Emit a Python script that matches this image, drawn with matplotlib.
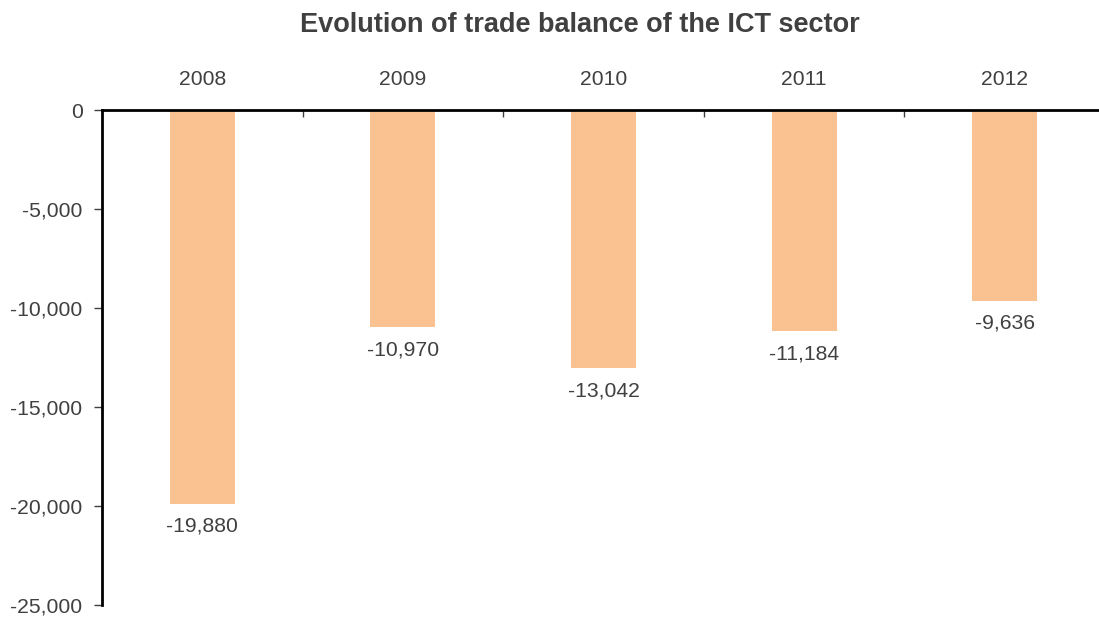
import matplotlib
matplotlib.use('Agg')
import matplotlib.pyplot as plt
from matplotlib.ticker import FuncFormatter, FixedLocator

years = ['2008', '2009', '2010', '2011', '2012']
balance = [-19880, -10970, -13042, -11184, -9636]

plt.rcParams['font.family'] = ['Liberation Sans', 'DejaVu Sans']
txt = '#404040'

fig = plt.figure(figsize=(10.99, 6.17), dpi=100)
ax = fig.add_axes([102 / 1099, 1 - 605 / 617, 1 - 102 / 1099, (605 - 110) / 617])

x = list(range(len(years)))
ax.bar(x, balance, width=0.324, color='#F9C290')

# value labels under each bar
for xi, v in zip(x, balance):
    ax.text(xi, v - 650, f'{v:,}', ha='center', va='top', fontsize=15.2, color=txt)

ax.set_ylim(-25000, 0)
ax.set_xlim(-0.5, 4.47)
ax.set_yticks(range(-25000, 1, 5000))
ax.yaxis.set_major_formatter(FuncFormatter(lambda v, p: f'{int(v):,}'))
ax.tick_params(axis='y', length=6, width=1, color='#404040', labelsize=15.2, labelcolor=txt, pad=8)

ax.xaxis.tick_top()
ax.set_xticks(x)
ax.set_xticklabels(years)
ax.tick_params(axis='x', which='major', length=0, pad=15, labelsize=15.2, labelcolor=txt)
ax.xaxis.set_minor_locator(FixedLocator([0.5, 1.5, 2.5, 3.5]))
ax.tick_params(axis='x', which='minor', direction='in', length=5, width=1, color='#404040', top=True, bottom=False)

for s in ['right', 'bottom']:
    ax.spines[s].set_visible(False)
ax.spines['left'].set_linewidth(2)
ax.spines['top'].set_linewidth(2)

fig.text(580 / 1099, 1 - 25 / 617, 'Evolution of trade balance of the ICT sector',
         ha='center', va='center', fontsize=19.5, fontweight='bold', color=txt)

fig.savefig('out.png', dpi=100)
